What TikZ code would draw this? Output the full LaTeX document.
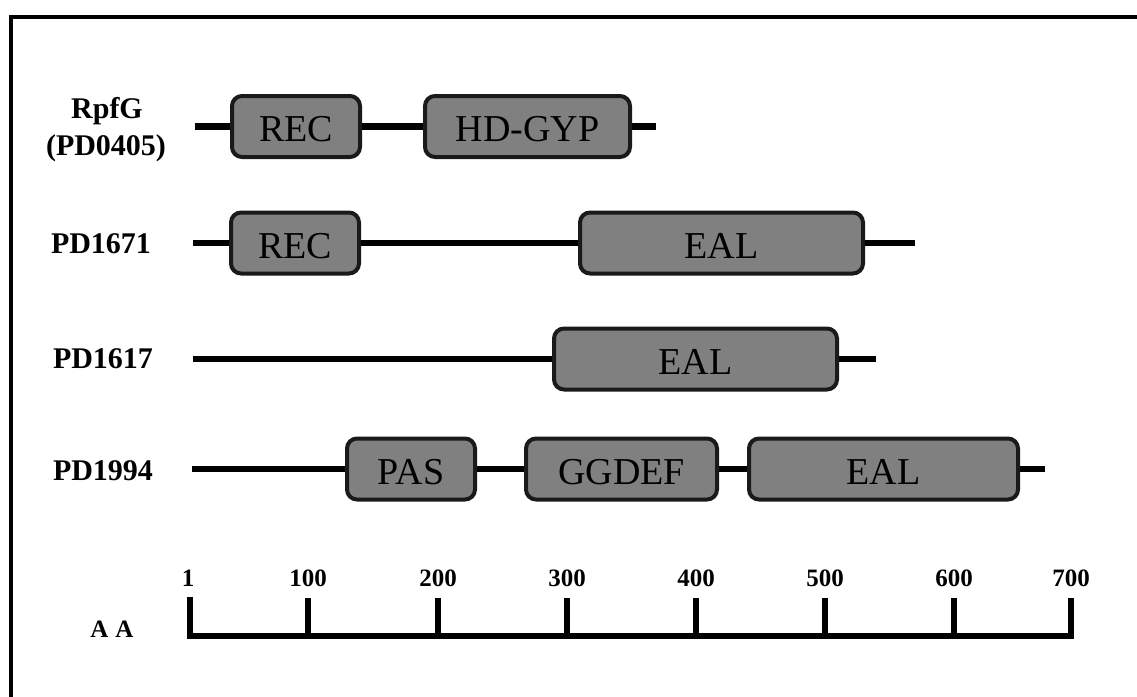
\documentclass[tikz,border=0pt]{standalone}
\usepackage{fontspec}
\setmainfont{Liberation Serif}
\definecolor{domgray}{HTML}{808080}
\definecolor{domedge}{HTML}{1A1A1A}
\tikzset{
  dom/.style={draw=domedge, line width=4pt, fill=domgray, rounded corners=10pt,
    inner sep=0pt, minimum height=61pt, text height=30pt, text depth=0pt,
    font=\fontsize{38}{40}\selectfont},
  chainline/.style={line width=6.5pt, draw=black},
  lab/.style={font=\bfseries\fontsize{30}{36}\selectfont, anchor=base, inner sep=0pt},
  num/.style={font=\bfseries\fontsize{25}{30}\selectfont, anchor=base, inner sep=0pt},
  tickline/.style={line width=6pt, draw=black},
  framel/.style={line width=4pt, draw=black}
}
\begin{document}
\begin{tikzpicture}[x=1pt,y=-1pt]
\useasboundingbox (0,0) rectangle (1137,696);
\begin{scope}
\clip (0,0) rectangle (1137,696);
\coordinate (fa) at (11,720);
\coordinate (fb) at (11,16.5);
\coordinate (fc) at (1160,16.5);
\draw[framel, line join=miter] (fa) -- (fb) -- (fc);
\end{scope}

% Row labels
\node[lab] (l1a) at (107,118) {RpfG};
\node[lab] (l1b) at (106,155) {(PD0405)};
\node[lab] (l2) at (101,253) {PD1671};
\node[lab] (l3) at (103,368) {PD1617};
\node[lab] (l4) at (103,480) {PD1994};

% Row 1
\coordinate (s1) at (195,126.5);
\coordinate (t1) at (656,126.5);
\node[dom, minimum width=128pt] (r1a) at (296,126.5) {REC};
\node[dom, minimum width=205pt] (r1b) at (527.5,126.5) {HD-GYP};
\draw[chainline] (s1) -- (r1a.west);
\draw[chainline] (r1a.east) -- (r1b.west);
\draw[chainline] (r1b.east) -- (t1);

% Row 2
\coordinate (s2) at (193,243);
\coordinate (t2) at (915,243);
\node[dom, minimum width=128pt] (r2a) at (295,243) {REC};
\node[dom, minimum width=283pt] (r2b) at (721.5,243) {EAL};
\draw[chainline] (s2) -- (r2a.west);
\draw[chainline] (r2a.east) -- (r2b.west);
\draw[chainline] (r2b.east) -- (t2);

% Row 3
\coordinate (s3) at (193,359);
\coordinate (t3) at (876,359);
\node[dom, minimum width=283pt] (r3a) at (695.5,359) {EAL};
\draw[chainline] (s3) -- (r3a.west);
\draw[chainline] (r3a.east) -- (t3);

% Row 4
\coordinate (s4) at (192,469);
\coordinate (t4) at (1045,469);
\node[dom, minimum width=128pt] (r4a) at (411,469) {PAS};
\node[dom, minimum width=191pt] (r4b) at (621.5,469) {GGDEF};
\node[dom, minimum width=269pt] (r4c) at (883.5,469) {EAL};
\draw[chainline] (s4) -- (r4a.west);
\draw[chainline] (r4a.east) -- (r4b.west);
\draw[chainline] (r4b.east) -- (r4c.west);
\draw[chainline] (r4c.east) -- (t4);

% Ruler
\coordinate (k1t) at (190,597);
\coordinate (k1) at (190,636);
\coordinate (k8t) at (1071,598);
\coordinate (k8) at (1071,636);
\draw[tickline, line join=miter] (k1t) -- (k1) -- (k8) -- (k8t);
\foreach \x/\n in {308/2,438/3,567/4,696/5,825/6,954/7}{
  \coordinate (k\n t) at (\x,598);
  \coordinate (k\n) at (\x,636);
  \draw[tickline] (k\n t) -- (k\n);
}
\node[num] (n1) at (188,586) {1};
\node[num] (n2) at (308,586) {100};
\node[num] (n3) at (438,586) {200};
\node[num] (n4) at (567,586) {300};
\node[num] (n5) at (696,586) {400};
\node[num] (n6) at (825,586) {500};
\node[num] (n7) at (954,586) {600};
\node[num] (n8) at (1071,586) {700};
\node[num] (aa) at (112,637) {A\kern7pt A};
\end{tikzpicture}
\end{document}
